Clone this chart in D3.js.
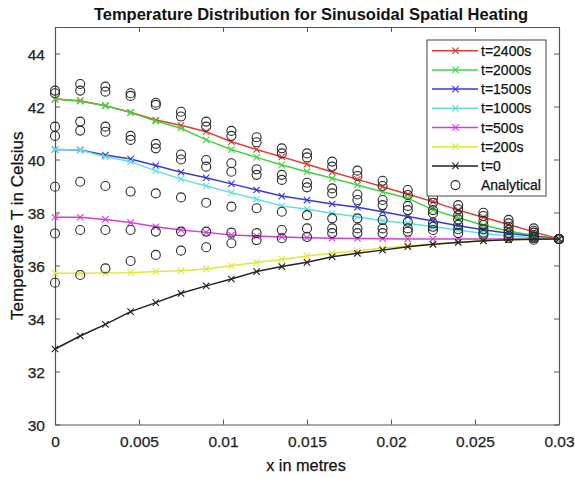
<!DOCTYPE html>
<html>
<head>
<meta charset="utf-8">
<script src="https://cdn.jsdelivr.net/npm/d3@7"></script>
<style>
  html, body { margin: 0; padding: 0; background: #fff; }
  svg { display: block; font-family: "Liberation Sans", Arial, Helvetica, sans-serif; }
  .txt { stroke: #111; stroke-width: 0.25px; paint-order: stroke; }
</style>
</head>
<body>
<svg id="chart" width="575" height="478"></svg>
<script>
// Sample positions along the bar (m)
const xPositions = [0, 0.0015, 0.003, 0.0045, 0.006, 0.0075, 0.009, 0.0105, 0.012, 0.0135,
  0.015, 0.0165, 0.018, 0.0195, 0.021, 0.0225, 0.024, 0.0255, 0.027, 0.0285, 0.03];

// Numerical temperature profiles (°C)
const t2400 = [42.28, 42.22, 42.03, 41.78, 41.49, 41.29, 41.05, 40.67, 40.38, 40.10, 39.82,
  39.53, 39.25, 38.97, 38.69, 38.41, 38.09, 37.82, 37.55, 37.27, 37.0];
const t2000 = [42.28, 42.20, 42.03, 41.77, 41.45, 41.18, 40.74, 40.38, 40.08, 39.79, 39.54,
  39.29, 39.04, 38.78, 38.54, 38.10, 37.80, 37.52, 37.30, 37.13, 37.0];
const t1500 = [40.38, 40.36, 40.17, 40.02, 39.77, 39.52, 39.31, 39.08, 38.85, 38.62, 38.47,
  38.32, 38.20, 38.03, 37.85, 37.68, 37.50, 37.35, 37.22, 37.10, 37.0];
const t1000 = [40.38, 40.36, 40.10, 39.92, 39.57, 39.26, 39.00, 38.75, 38.50, 38.25, 38.12,
  37.97, 37.84, 37.69, 37.59, 37.46, 37.34, 37.21, 37.11, 37.05, 37.0];
const t500 = [37.82, 37.82, 37.74, 37.62, 37.46, 37.34, 37.25, 37.15, 37.11, 37.08, 37.05,
  37.03, 37.02, 37.01, 37.0, 37.0, 37.0, 37.0, 37.0, 37.0, 37.0];
const t200 = [35.71, 35.71, 35.72, 35.73, 35.77, 35.80, 35.87, 35.99, 36.12, 36.23, 36.36,
  36.46, 36.56, 36.65, 36.74, 36.81, 36.87, 36.93, 36.97, 36.99, 37.0];
const t0 = [32.85, 33.34, 33.78, 34.26, 34.60, 34.95, 35.23, 35.49, 35.77, 35.96, 36.12,
  36.33, 36.46, 36.58, 36.71, 36.80, 36.87, 36.93, 36.97, 36.99, 37.0];

// Analytical solution values (°C), one row per profile
const analyticalA = [42.60, 42.85, 42.75, 42.50, 42.14, 41.80, 41.43, 41.08, 40.84, 40.42, 40.23,
  39.92, 39.58, 39.20, 38.85, 38.54, 38.28, 37.99, 37.72, 37.40, 37.0];
const analyticalB = [42.50, 42.60, 42.56, 42.40, 42.06, 41.62, 41.24, 40.89, 40.65, 40.23, 40.08,
  39.73, 39.38, 39.00, 38.66, 38.37, 38.12, 37.87, 37.59, 37.31, 37.0];
const analyticalC = [41.24, 41.43, 41.24, 40.89, 40.59, 40.19, 39.98, 39.86, 39.63, 39.42, 39.12,
  38.91, 38.68, 38.47, 38.25, 38.09, 37.90, 37.69, 37.46, 37.24, 37.0];
const analyticalD = [40.89, 41.09, 41.05, 40.74, 40.42, 40.00, 39.73, 39.54, 39.42, 39.23, 38.95,
  38.72, 38.47, 38.28, 38.09, 37.97, 37.74, 37.53, 37.34, 37.15, 37.0];
const analyticalE = [38.97, 39.16, 39.00, 38.79, 38.72, 38.57, 38.37, 38.22, 38.16, 38.03, 37.90,
  37.78, 37.78, 37.72, 37.65, 37.59, 37.53, 37.37, 37.22, 37.08, 37.0];
const analyticalF = [37.21, 37.34, 37.34, 37.34, 37.28, 37.28, 37.28, 37.24, 37.22, 37.34, 37.40,
  37.40, 37.40, 37.40, 37.40, 37.46, 37.37, 37.24, 37.11, 37.03, 37.0];
const analyticalG = [35.35, 35.64, 35.89, 36.17, 36.40, 36.56, 36.69, 36.84, 36.96, 37.03, 37.08,
  37.22, 37.22, 37.22, 37.28, 37.34, 37.22, 37.15, 37.03, 36.97, 37.0];

const seriesNames = ["t=2400s", "t=2000s", "t=1500s", "t=1000s", "t=500s", "t=200s", "t=0"];
const seriesValues = [t2400, t2000, t1500, t1000, t500, t200, t0];
const seriesColors = ["#e23a36", "#3fd43f", "#3a3ad0", "#5ee0e0", "#d23fd2", "#e4e43a", "#222222"];
const analyticalRows = [analyticalA, analyticalB, analyticalC, analyticalD, analyticalE, analyticalF, analyticalG];

const xTicks = [0, 0.005, 0.01, 0.015, 0.02, 0.025, 0.03];
const xTickLabels = ["0", "0.005", "0.01", "0.015", "0.02", "0.025", "0.03"];
const yTicks = [30, 32, 34, 36, 38, 40, 42, 44];

const margin = { left: 55, right: 16, top: 27, bottom: 53.5 };
const W = 575, H = 478;
const svg = d3.select("#chart");
const plotW = W - margin.left - margin.right;
const plotH = H - margin.top - margin.bottom;

const x = d3.scaleLinear().domain([0, 0.03]).range([margin.left, margin.left + plotW]);
const y = d3.scaleLinear().domain([30, 45]).range([margin.top + plotH, margin.top]);

const axisColor = "#555";
const tickLen = 5;

// Plot background
svg.append("rect")
  .attr("x", margin.left).attr("y", margin.top)
  .attr("width", plotW).attr("height", plotH)
  .attr("fill", "#fff");

// Axes with inward ticks on all four sides
const gB = svg.append("g").attr("transform", `translate(0,${margin.top + plotH})`)
  .call(d3.axisBottom(x).tickValues(xTicks).tickSizeInner(-tickLen).tickSizeOuter(0)
    .tickPadding(10).tickFormat((d, i) => xTickLabels[i]));
const gT = svg.append("g").attr("transform", `translate(0,${margin.top})`)
  .call(d3.axisTop(x).tickValues(xTicks).tickSizeInner(-tickLen).tickSizeOuter(0).tickFormat(""));
const gL = svg.append("g").attr("transform", `translate(${margin.left},0)`)
  .call(d3.axisLeft(y).tickValues(yTicks).tickSizeInner(-tickLen).tickSizeOuter(0)
    .tickPadding(10).tickFormat(d3.format("d")));
const gR = svg.append("g").attr("transform", `translate(${margin.left + plotW},0)`)
  .call(d3.axisRight(y).tickValues(yTicks).tickSizeInner(-tickLen).tickSizeOuter(0).tickFormat(""));

[gB, gT, gL, gR].forEach(g => {
  g.select(".domain").attr("stroke", axisColor).attr("stroke-width", 1.2);
  g.selectAll(".tick line").attr("stroke", axisColor).attr("stroke-width", 1);
  g.selectAll(".tick text").attr("fill", "#222").attr("class", "txt").style("font-size", "15.5px")
    .style("font-family", "'Liberation Sans', Arial, sans-serif");
});
gB.selectAll(".tick text").attr("dy", "0.82em");
gL.selectAll(".tick text").attr("dy", "0.36em");

// Line + cross marker series
const line = d3.line().x((d, i) => x(xPositions[i])).y(d => y(d));
const crossPath = s => `M${-s},${-s}L${s},${s}M${-s},${s}L${s},${-s}`;

seriesValues.forEach((vals, k) => {
  const g = svg.append("g");
  g.append("path").datum(vals)
    .attr("d", line)
    .attr("fill", "none")
    .attr("stroke", seriesColors[k])
    .attr("stroke-width", 1.5);
  g.selectAll("path.mk").data(vals).join("path")
    .attr("class", "mk")
    .attr("transform", (d, i) => `translate(${x(xPositions[i])},${y(d)})`)
    .attr("d", crossPath(3.2))
    .attr("stroke", seriesColors[k])
    .attr("stroke-width", 1.1)
    .attr("fill", "none");
});

// Analytical points as open circles
analyticalRows.forEach(row => {
  svg.append("g").selectAll("circle").data(row).join("circle")
    .attr("cx", (d, i) => x(xPositions[i]))
    .attr("cy", d => y(d))
    .attr("r", 4.5)
    .attr("fill", "none")
    .attr("stroke", "#2a2a2a")
    .attr("stroke-width", 1.1);
});

// Legend
const lg = svg.append("g");
const lgX = 427, lgY = 40, lgW = 119, lgH = 156, rowH = 19.2;
lg.append("rect").attr("x", lgX).attr("y", lgY).attr("width", lgW).attr("height", lgH)
  .attr("fill", "#fff").attr("stroke", "#444").attr("stroke-width", 1);

const legendItems = seriesNames.map((n, k) => ({ name: n, color: seriesColors[k], type: "line" }))
  .concat([{ name: "Analytical", color: "#2a2a2a", type: "circle" }]);

legendItems.forEach((it, k) => {
  const cy = lgY + 10.7 + k * rowH;
  if (it.type === "line") {
    lg.append("line").attr("x1", lgX + 5).attr("x2", lgX + 51).attr("y1", cy).attr("y2", cy)
      .attr("stroke", it.color).attr("stroke-width", 1.5);
    lg.append("path").attr("transform", `translate(${lgX + 28.5},${cy})`)
      .attr("d", crossPath(3.2)).attr("stroke", it.color).attr("stroke-width", 1.1).attr("fill", "none");
  } else {
    lg.append("circle").attr("cx", lgX + 28.5).attr("cy", cy).attr("r", 4.5)
      .attr("fill", "none").attr("stroke", it.color).attr("stroke-width", 1.1);
  }
  lg.append("text").attr("class", "txt").attr("x", lgX + 54).attr("y", cy).attr("dy", "0.36em")
    .attr("fill", "#111").style("font-size", "14px").text(it.name);
});

// Title and axis labels
svg.append("text").attr("x", 311).attr("y", 20).attr("text-anchor", "middle")
  .style("font-size", "16.5px").style("font-weight", "bold").attr("fill", "#111")
  .text("Temperature Distribution for Sinusoidal Spatial Heating");
svg.append("text").attr("class", "txt").attr("x", 306).attr("y", 471).attr("text-anchor", "middle")
  .style("font-size", "16.3px").attr("fill", "#111").text("x in metres");
svg.append("text").attr("class", "txt").attr("transform", `translate(23,${margin.top + plotH / 2}) rotate(-90)`)
  .attr("text-anchor", "middle").style("font-size", "17px").attr("fill", "#111")
  .text("Temperature T in Celsius");
</script>
</body>
</html>
